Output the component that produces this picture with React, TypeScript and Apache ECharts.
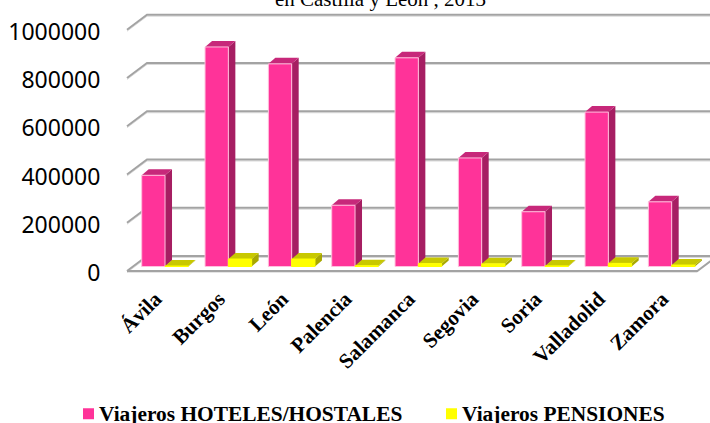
import React, { useEffect, useRef } from "react";
import * as echarts from "echarts";

const categories = ["Ávila", "Burgos", "León", "Palencia", "Salamanca", "Segovia", "Soria", "Valladolid", "Zamora"];
const hoteles = [378000, 910000, 840000, 254000, 865000, 450000, 227000, 640000, 268000];
const pensiones = [2000, 31000, 31000, 3000, 12000, 11000, 2500, 13000, 6000];
const yTicks = [0, 200000, 400000, 600000, 800000, 1000000];
const titleText = "en Castilla y León , 2013";
const nameA = "Viajeros HOTELES/HOSTALES";
const nameB = "Viajeros PENSIONES";

const DX = 7;
const DY = -6;

function bar3d(offset: number, front: string, side: string, top: string, edge: string) {
  return (params: any, api: any) => {
    const i = api.value(0);
    const v = api.value(1);
    const band = api.size([1, 0])[0];
    const w = band * 0.368;
    const base = api.coord([i, 0]);
    const head = api.coord([i, v]);
    const x0 = base[0] + offset * w;
    const x1 = x0 + w;
    const yb = base[1];
    const yt = head[1];
    return {
      type: "group",
      children: [
        { type: "polygon", shape: { points: [[x1, yb], [x1 + DX, yb + DY], [x1 + DX, yt + DY], [x1, yt]] }, style: { fill: side } },
        { type: "polygon", shape: { points: [[x0, yt], [x1, yt], [x1 + DX, yt + DY], [x0 + DX, yt + DY]] }, style: { fill: top } },
        { type: "rect", shape: { x: x0, y: yt, width: w, height: yb - yt }, style: { fill: front, stroke: edge, lineWidth: 1 } },
      ],
    };
  };
}

function wall(params: any, api: any) {
  const v = api.value(1);
  const y = api.coord([0, v])[1];
  const cs = params.coordSys;
  const left = cs.x;
  const right = cs.x + cs.width;
  const fx0 = left - 6.35;
  const fx1 = right - 6;
  const fy = y + 4.5;
  const by = y - 10.5;
  const children: any[] = [];
  const stroke = "#A3A3A3";
  const shade = "#DADADA";
  children.push({ type: "polyline", shape: { points: [[fx0, fy + 1.5], [fx0 + 20, by + 1.5], [fx1 + 20, by + 1.5]] }, style: { fill: "none", stroke: shade, lineWidth: 1 } });
  children.push({ type: "polyline", shape: { points: [[fx0, fy], [fx0 + 20, by], [fx1 + 20, by]] }, style: { fill: "none", stroke, lineWidth: 2 } });
  if (v === 0) {
    children.push({ type: "polyline", shape: { points: [[fx0, fy + 1.2], [fx1, fy + 1.2]] }, style: { fill: "none", stroke: shade, lineWidth: 1 } });
    children.push({ type: "polyline", shape: { points: [[fx0, fy], [fx1, fy], [fx1 + 20, by]] }, style: { fill: "none", stroke, lineWidth: 2 } });
  }
  return { type: "group", children };
}

const legendText = { fontFamily: "Liberation Serif", fontWeight: "bold" as const, fontSize: 21.4, lineHeight: 19, padding: [0, 0, 1.5, 0], color: "#000" };

export default function App() {
  const ref = useRef<HTMLDivElement>(null);
  useEffect(() => {
    const chart = echarts.init(ref.current!, undefined, { renderer: "svg" });
    chart.setOption({
      animation: false,
      backgroundColor: "#fff",
      title: {
        text: titleText,
        left: 375.5,
        textAlign: "center",
        top: -17,
        textStyle: { fontFamily: "Liberation Serif", fontWeight: "normal", fontSize: 21, color: "#000" },
      },
      grid: { left: 133.35, width: 570, top: 25.25, height: 241.25, outerBoundsMode: "none" },
      legend: [
        { data: [nameA], left: 83, top: 403.25, icon: "rect", itemWidth: 11, itemHeight: 11, itemGap: 2, textStyle: legendText, padding: 0 },
        { data: [nameB], left: 446, top: 403.25, icon: "rect", itemWidth: 11, itemHeight: 11, itemGap: 7, textStyle: legendText, padding: 0 },
      ],
      xAxis: {
        type: "category",
        data: categories,
        axisLine: { show: false },
        axisTick: { show: false },
        axisLabel: {
          interval: 0,
          rotate: 45,
          margin: 22,
          padding: [0, 10, 0, 0],
          fontFamily: "Liberation Serif",
          fontWeight: "bold",
          fontSize: 21,
          color: "#000",
        },
      },
      yAxis: {
        type: "value",
        min: 0,
        max: 1000000,
        interval: 200000,
        splitLine: { show: false },
        axisLine: { show: false },
        axisTick: { show: false },
        axisLabel: {
          margin: 33,
          fontFamily: "Noto Sans",
          fontSize: 23,
          color: "#000",
          verticalAlign: "top",
          lineHeight: 11,
          formatter: (v: number) => String(v),
        },
      },
      series: [
        {
          type: "custom",
          name: "pared",
          silent: true,
          z: 1,
          renderItem: wall,
          data: yTicks.map((v) => [0, v]),
          encode: { x: 0, y: 1 },
        },
        {
          type: "custom",
          name: nameA,
          z: 2,
          itemStyle: { color: "#FF3399" },
          renderItem: bar3d(-1, "#FF3399", "#A61E62", "#C7287A", "#FFC0DD"),
          data: hoteles.map((v, i) => [i, v]),
          encode: { x: 0, y: 1 },
        },
        {
          type: "custom",
          name: nameB,
          z: 3,
          itemStyle: { color: "#FFFF00" },
          renderItem: bar3d(0, "#FFFF00", "#A8A800", "#C8C800", "#FFFF00"),
          data: pensiones.map((v, i) => [i, v]),
          encode: { x: 0, y: 1 },
        },
      ],
    });
    return () => chart.dispose();
  }, []);
  return <div ref={ref} style={{ position: "absolute", left: 0, top: 0, width: 710, height: 423 }} />;
}
